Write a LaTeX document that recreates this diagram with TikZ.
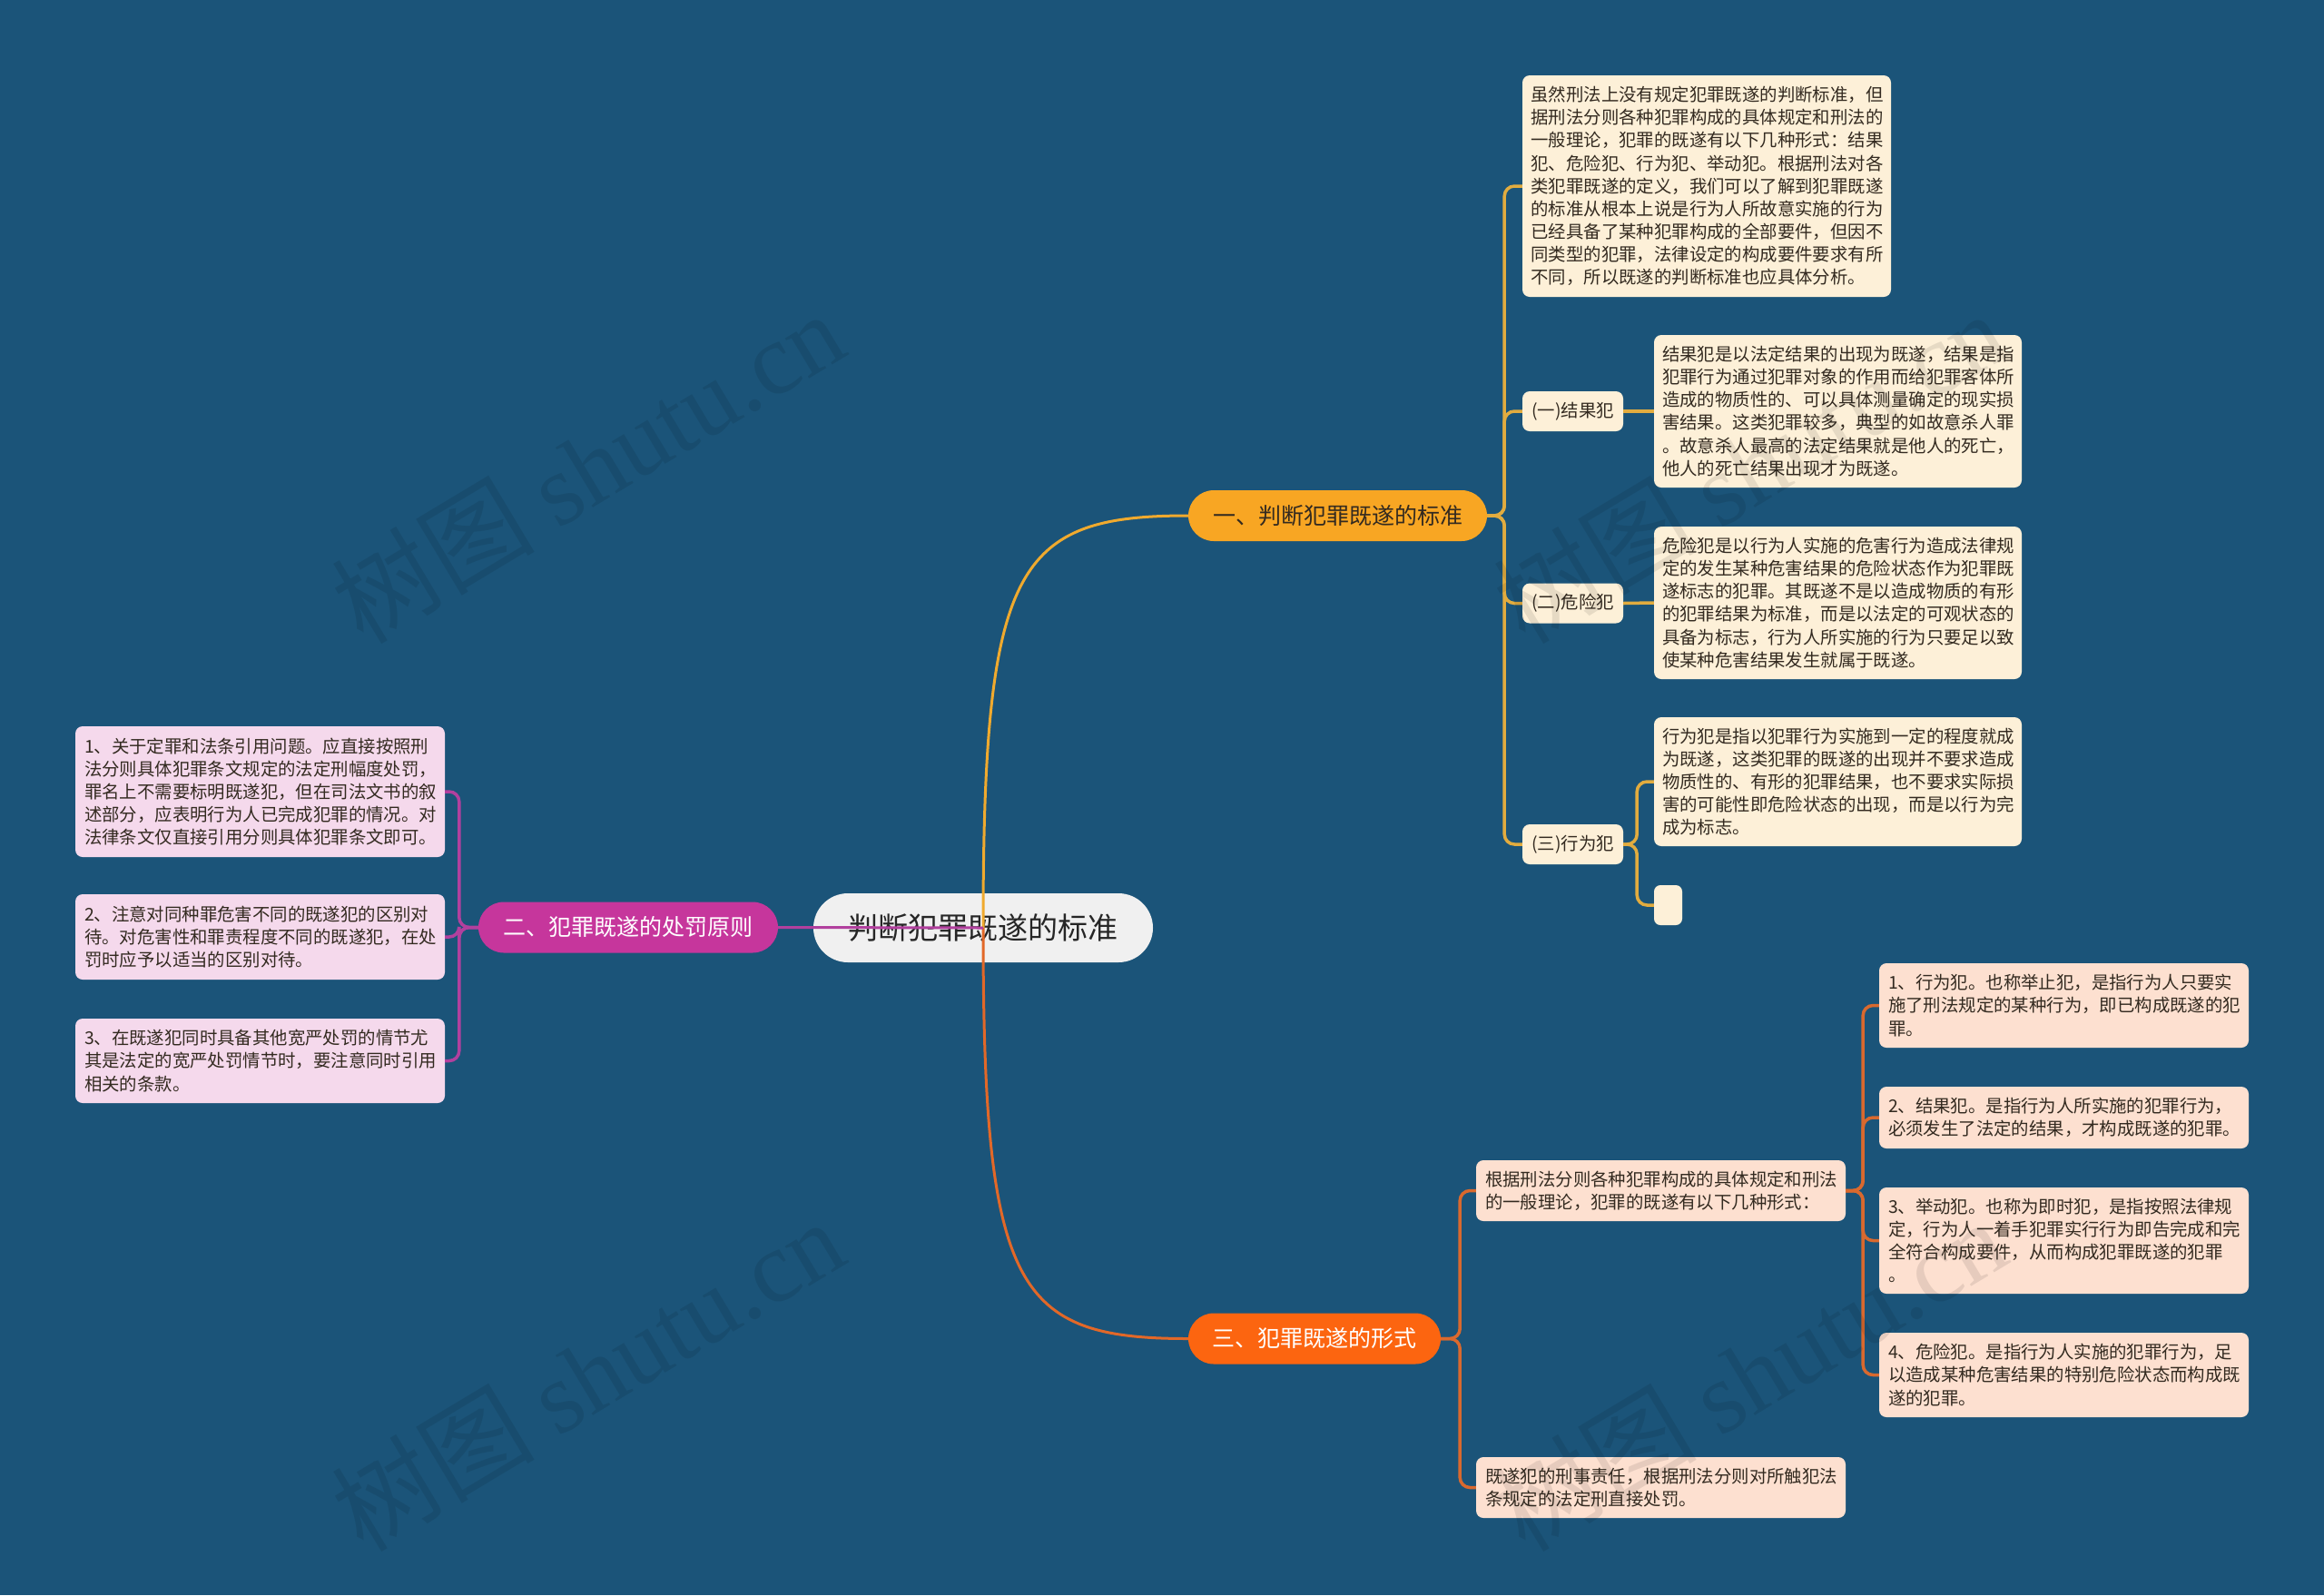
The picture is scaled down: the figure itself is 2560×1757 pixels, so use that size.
\documentclass[tikz,border=0pt]{standalone}
\usepackage{fontspec}
\setmainfont{Noto Sans CJK SC}
\newfontfamily\wmfont{Liberation Serif}
\definecolor{bg}{RGB}{27,84,121}
\definecolor{ctrfill}{RGB}{240,240,240}
\definecolor{oneFill}{RGB}{248,166,35}
\definecolor{threeFill}{RGB}{252,101,16}
\definecolor{twoFill}{RGB}{198,54,156}
\definecolor{cream}{RGB}{253,240,216}
\definecolor{peach}{RGB}{253,224,208}
\definecolor{pink}{RGB}{245,217,236}
\definecolor{lineOne}{RGB}{240,170,46}
\definecolor{lineThree}{RGB}{226,104,40}
\definecolor{lineTwo}{RGB}{178,64,158}
\definecolor{subOne}{RGB}{226,172,63}
\definecolor{subThree}{RGB}{217,105,46}
\definecolor{subTwo}{RGB}{178,64,158}
\definecolor{txt}{RGB}{51,42,32}
\tikzset{
  x=1pt, y=-1pt,
  textbox/.style={rounded corners=8pt, inner sep=0pt, align=left, text=txt,
    font=\fontsize{19.4pt}{25.1pt}\selectfont},
  creambox/.style={textbox, fill=cream},
  peachbox/.style={textbox, fill=peach},
  pinkbox/.style={textbox, fill=pink},
  lbl/.style={creambox, align=center, minimum width=111pt, minimum height=44pt},
  branch/.style={rounded corners=28pt, inner sep=0pt, minimum height=56pt,
    font=\fontsize{25pt}{30pt}\selectfont},
  mainline/.style={line width=3pt},
  subline/.style={line width=3.5pt, rounded corners=11pt},
  wm/.style={rotate=31, text=black, opacity=0.09, font=\fontsize{112pt}{116pt}\selectfont}
}
\begin{document}
\begin{tikzpicture}
\useasboundingbox (0,0) rectangle (2560,1757);
\fill[bg] (0,0) rectangle (2560,1757);

% central node
\node[rounded corners=38pt, fill=ctrfill, minimum width=374pt, minimum height=76pt, inner sep=0pt,
  text=black!85, font=\fontsize{33pt}{38pt}\selectfont] (ctr) at (1083,1022) {判断犯罪既遂的标准};

% branches
\node[branch, fill=oneFill, minimum width=329pt, text=txt] (b1) at (1473.5,568) {一、判断犯罪既遂的标准};
\node[branch, fill=threeFill, minimum width=278pt, text=white] (b3) at (1448,1474.5) {三、犯罪既遂的形式};
\node[branch, fill=twoFill, minimum width=330pt, text=white] (b2) at (692,1021.5) {二、犯罪既遂的处罚原则};

% branch 1 children
\node[creambox, minimum width=406pt, minimum height=244pt, text width=387pt] (a) at (1880,205) {虽然刑法上没有规定犯罪既遂的判断标准，但\\据刑法分则各种犯罪构成的具体规定和刑法的\\一般理论，犯罪的既遂有以下几种形式：结果\\犯、危险犯、行为犯、举动犯。根据刑法对各\\类犯罪既遂的定义，我们可以了解到犯罪既遂\\的标准从根本上说是行为人所故意实施的行为\\已经具备了某种犯罪构成的全部要件，但因不\\同类型的犯罪，法律设定的构成要件要求有所\\不同，所以既遂的判断标准也应具体分析。};
\node[lbl] (l1) at (1732.5,453) {(一)结果犯};
\node[lbl] (l2) at (1732.5,664.5) {(二)危险犯};
\node[lbl] (l3) at (1732.5,930) {(三)行为犯};
\node[creambox, minimum width=405pt, minimum height=168pt, text width=387pt] (t1) at (2024.5,453) {结果犯是以法定结果的出现为既遂，结果是指\\犯罪行为通过犯罪对象的作用而给犯罪客体所\\造成的物质性的、可以具体测量确定的现实损\\害结果。这类犯罪较多，典型的如故意杀人罪\\。故意杀人最高的法定结果就是他人的死亡，\\他人的死亡结果出现才为既遂。};
\node[creambox, minimum width=405pt, minimum height=168pt, text width=387pt] (t2) at (2024.5,664) {危险犯是以行为人实施的危害行为造成法律规\\定的发生某种危害结果的危险状态作为犯罪既\\遂标志的犯罪。其既遂不是以造成物质的有形\\的犯罪结果为标准，而是以法定的可观状态的\\具备为标志，行为人所实施的行为只要足以致\\使某种危害结果发生就属于既遂。};
\node[creambox, minimum width=405pt, minimum height=142pt, text width=387pt] (t3) at (2024.5,861) {行为犯是指以犯罪行为实施到一定的程度就成\\为既遂，这类犯罪的既遂的出现并不要求造成\\物质性的、有形的犯罪结果，也不要求实际损\\害的可能性即危险状态的出现，而是以行为完\\成为标志。};
\node[creambox, rounded corners=7pt, minimum width=31pt, minimum height=44pt] (e) at (1837.5,997) {};

% branch 3 children
\node[peachbox, minimum width=407pt, minimum height=67pt, text width=387pt] (f1) at (1829.5,1311.5) {根据刑法分则各种犯罪构成的具体规定和刑法\\的一般理论，犯罪的既遂有以下几种形式：};
\node[peachbox, minimum width=407pt, minimum height=67pt, text width=387pt] (f2) at (1829.5,1638.5) {既遂犯的刑事责任，根据刑法分则对所触犯法\\条规定的法定刑直接处罚。};
\node[peachbox, minimum width=407pt, minimum height=93pt, text width=387pt] (c1) at (2273.5,1107.5) {1、行为犯。也称举止犯，是指行为人只要实\\施了刑法规定的某种行为，即已构成既遂的犯\\罪。};
\node[peachbox, minimum width=407pt, minimum height=68pt, text width=387pt] (c2) at (2273.5,1231) {2、结果犯。是指行为人所实施的犯罪行为，\\必须发生了法定的结果，才构成既遂的犯罪。};
\node[peachbox, minimum width=407pt, minimum height=117pt, text width=387pt] (c3) at (2273.5,1366.5) {3、举动犯。也称为即时犯，是指按照法律规\\定，行为人一着手犯罪实行行为即告完成和完\\全符合构成要件，从而构成犯罪既遂的犯罪\\。};
\node[peachbox, minimum width=407pt, minimum height=93pt, text width=387pt] (c4) at (2273.5,1514.5) {4、危险犯。是指行为人实施的犯罪行为，足\\以造成某种危害结果的特别危险状态而构成既\\遂的犯罪。};

% branch 2 children
\node[pinkbox, minimum width=407pt, minimum height=144pt, text width=387pt] (p1) at (286.5,872) {1、关于定罪和法条引用问题。应直接按照刑\\法分则具体犯罪条文规定的法定刑幅度处罚，\\罪名上不需要标明既遂犯，但在司法文书的叙\\述部分，应表明行为人已完成犯罪的情况。对\\法律条文仅直接引用分则具体犯罪条文即可。};
\node[pinkbox, minimum width=407pt, minimum height=94pt, text width=387pt] (p2) at (286.5,1032) {2、注意对同种罪危害不同的既遂犯的区别对\\待。对危害性和罪责程度不同的既遂犯，在处\\罚时应予以适当的区别对待。};
\node[pinkbox, minimum width=407pt, minimum height=93pt, text width=387pt] (p3) at (286.5,1168.5) {3、在既遂犯同时具备其他宽严处罚的情节尤\\其是法定的宽严处罚情节时，要注意同时引用\\相关的条款。};

% main connectors
\draw[mainline, lineOne] (ctr.center) .. controls +(0,-400) and +(-190,0) .. (b1.west);
\draw[mainline, lineThree] (ctr.center) .. controls +(0,400) and +(-190,0) .. (b3.west);
\draw[mainline, lineTwo] (ctr.center) -- (b2.east);

% branch 1 sub connectors
\draw[subline, subOne] (b1.east) -- ++(19,0) |- (a.west);
\draw[subline, subOne] (b1.east) -- ++(19,0) |- (l1.west);
\draw[subline, subOne] (b1.east) -- ++(19,0) |- (l2.west);
\draw[subline, subOne] (b1.east) -- ++(19,0) |- (l3.west);
\draw[subline, subOne] (l1.east) -- (t1.west);
\draw[subline, subOne] (l2.east) -- (t2.west);
\draw[subline, subOne] (l3.east) -- ++(15,0) |- (t3.west);
\draw[subline, subOne] (l3.east) -- ++(15,0) |- (e.west);

% branch 3 sub connectors
\draw[subline, subThree] (b3.east) -- ++(21,0) |- (f1.west);
\draw[subline, subThree] (b3.east) -- ++(21,0) |- (f2.west);
\draw[subline, subThree] (f1.east) -- ++(19,0) |- (c1.west);
\draw[subline, subThree] (f1.east) -- ++(19,0) |- (c2.west);
\draw[subline, subThree] (f1.east) -- ++(19,0) |- (c3.west);
\draw[subline, subThree] (f1.east) -- ++(19,0) |- (c4.west);

% branch 2 sub connectors
\draw[subline, subTwo] (b2.west) -- ++(-21,0) |- (p1.east);
\draw[subline, subTwo] (b2.west) -- ++(-21,0) |- (p2.east);
\draw[subline, subTwo] (b2.west) -- ++(-21,0) |- (p3.east);

% watermarks
\node[wm] (w1) at (647,514) {树图 {\wmfont shutu.cn}};
\node[wm] (w2) at (1927,514) {树图 {\wmfont shutu.cn}};
\node[wm] (w3) at (647,1514) {树图 {\wmfont shutu.cn}};
\node[wm] (w4) at (1927,1514) {树图 {\wmfont shutu.cn}};
\end{tikzpicture}
\end{document}
